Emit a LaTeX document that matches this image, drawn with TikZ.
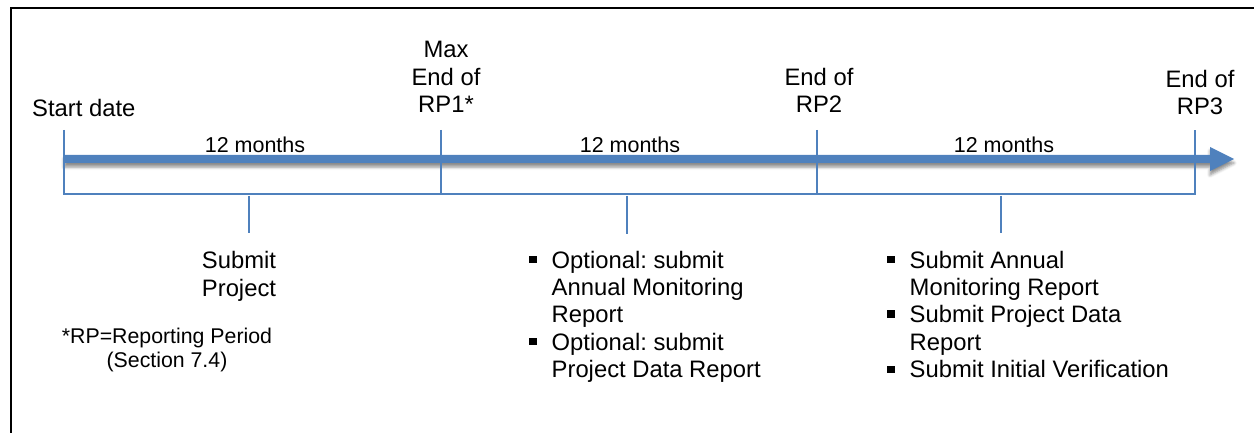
\documentclass[tikz,border=0pt]{standalone}
\usepackage{fontspec}
\setmainfont{Liberation Sans}
\usetikzlibrary{shadows.blur}
\definecolor{tlblue}{RGB}{79,129,189}
\newcommand{\sqbul}{\rule[5pt]{7.5pt}{7.5pt}}
\frenchspacing
\begin{document}
\begin{tikzpicture}[x=1pt,y=-1pt,
  frame/.style={line width=2pt,black},
  tick/.style={tlblue,line width=1.6pt},
  lbl/.style={inner sep=0pt,anchor=base,font=\fontsize{23.8}{27.5}\selectfont},
  mon/.style={inner sep=0pt,anchor=base,font=\fontsize{21.5}{24}\selectfont},
  note/.style={inner sep=0pt,anchor=base,font=\fontsize{21.3}{24}\selectfont},
  lst/.style={inner sep=0pt,anchor=base west,font=\fontsize{23.8}{27.5}\selectfont}]
\useasboundingbox (0,0) rectangle (1254,433);
% frame
\draw[frame] (11,433) -- (11,8.3) -- (1254,8.3);
% main arrow
\fill[tlblue,blur shadow={shadow xshift=0pt,shadow yshift=-4pt,shadow opacity=45,shadow blur radius=3pt}]
  (64,155) -- (1210,155) -- (1210,147) -- (1234,159) -- (1210,171) -- (1210,163) -- (64,163) -- cycle;
% timeline points
\coordinate (t0) at (64,130);
\coordinate (t1) at (441,130);
\coordinate (t2) at (817,130);
\coordinate (t3) at (1195,130);
\coordinate (b0) at (64,194);
\coordinate (b1) at (441,194);
\coordinate (b2) at (817,194);
\coordinate (b3) at (1195,194);
\draw[tick] (t0) -- (b0) -- (b3) -- (t3);
\draw[tick] (t1) -- (b1);
\draw[tick] (t2) -- (b2);
\coordinate (d1a) at (249,196); \coordinate (d1b) at (249,233);
\coordinate (d2a) at (627,196); \coordinate (d2b) at (627,234);
\coordinate (d3a) at (1001,196); \coordinate (d3b) at (1001,233);
\draw[tick] (d1a) -- (d1b);
\draw[tick] (d2a) -- (d2b);
\draw[tick] (d3a) -- (d3b);
% top labels
\node[lbl,anchor=base west] (start) at (32,117) {Start date};
\node[lbl] (rp1) at (446,113) {\begin{tabular}[b]{@{}c@{}}Max\\End of\\RP1*\end{tabular}};
\node[lbl] (rp2) at (819,113) {\begin{tabular}[b]{@{}c@{}}End of\\RP2\end{tabular}};
\node[lbl] (rp3) at (1200,115) {\begin{tabular}[b]{@{}c@{}}End of\\RP3\end{tabular}};
% months
\node[mon] (m1) at (255,153) {12 months};
\node[mon] (m2) at (630,153) {12 months};
\node[mon] (m3) at (1004,153) {12 months};
% bottom texts
\node[lbl] (sub) at (239,269) {\begin{tabular}[t]{@{}c@{}}Submit\\Project\end{tabular}};
\node[note] (fn) at (167,343) {\begin{tabular}[t]{@{}c@{}}*RP=Reporting Period\\(Section 7.4)\end{tabular}};
\node[lst] (mid) at (529,268) {\begin{tabular}[t]{@{}l@{\hspace{15pt}}l@{}}\sqbul & Optional: submit\\ & Annual Monitoring\\ & Report\\ \sqbul & Optional: submit\\ & Project Data Report\end{tabular}};
\node[lst] (right) at (887,268) {\begin{tabular}[t]{@{}l@{\hspace{15pt}}l@{}}\sqbul & Submit Annual\\ & Monitoring Report\\ \sqbul & Submit Project Data\\ & Report\\ \sqbul & Submit Initial Verification\end{tabular}};
\end{tikzpicture}
\end{document}
